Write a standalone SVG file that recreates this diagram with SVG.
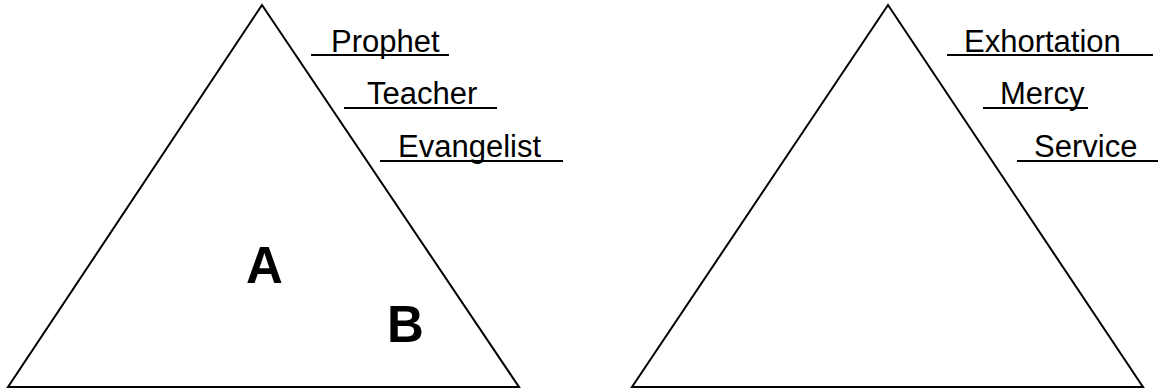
<svg xmlns="http://www.w3.org/2000/svg" width="1159" height="392" viewBox="0 0 1159 392">
<style>
.tri{fill:none;stroke:#000;stroke-width:2;stroke-linejoin:miter}
.lbl{font-family:"Liberation Sans",Arial,sans-serif;font-size:31px;fill:#000}
.big{font-family:"Liberation Sans",Arial,sans-serif;font-size:51px;font-weight:bold;fill:#000}
.ul{stroke:#000;stroke-width:2.2}
</style>
<rect width="1159" height="392" fill="#fff"/>
<g id="triangle-left">
<polygon class="tri" points="262,5 519,387 8,387"/>
<text class="big" x="246" y="283">A</text>
<text class="big" x="387" y="342">B</text>
</g>
<g id="triangle-right">
<polygon class="tri" points="888,5 1143,387 632,387"/>
</g>
<g id="labels-left">
<g id="prophet"><text class="lbl" x="331" y="52">Prophet</text><line class="ul" x1="311" y1="55" x2="449" y2="55"/></g>
<g id="teacher"><text class="lbl" x="367" y="104">Teacher</text><line class="ul" x1="344" y1="108" x2="497" y2="108"/></g>
<g id="evangelist"><text class="lbl" x="398" y="157">Evangelist</text><line class="ul" x1="380" y1="161" x2="563" y2="161"/></g>
</g>
<g id="labels-right">
<g id="exhortation"><text class="lbl" x="964" y="52">Exhortation</text><line class="ul" x1="947" y1="55" x2="1153" y2="55"/></g>
<g id="mercy"><text class="lbl" x="1000" y="104">Mercy</text><line class="ul" x1="983" y1="108" x2="1088" y2="108"/></g>
<g id="service"><text class="lbl" x="1034" y="157">Service</text><line class="ul" x1="1017" y1="161" x2="1158" y2="161"/></g>
</g>
</svg>
